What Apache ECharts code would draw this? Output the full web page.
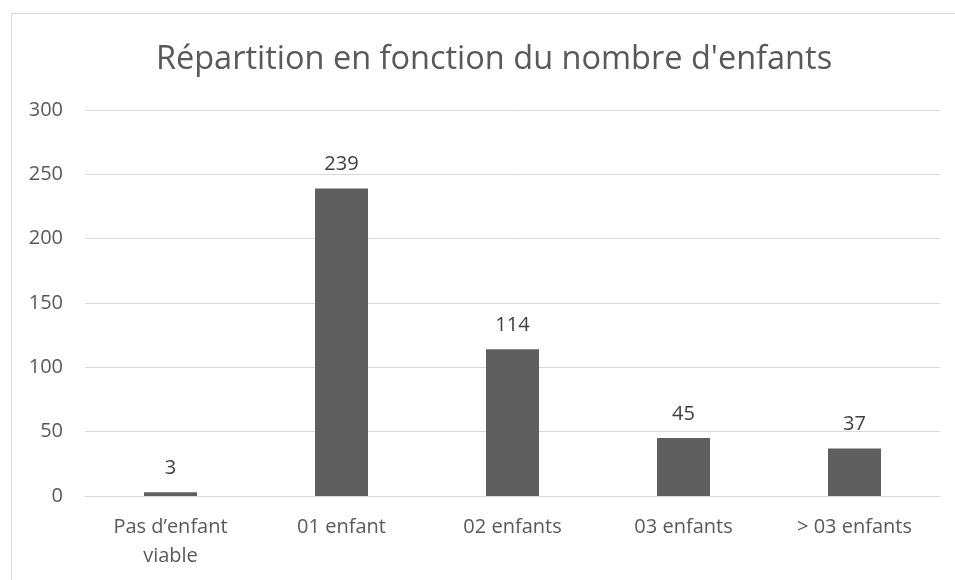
<!DOCTYPE html>
<html><head><meta charset="utf-8">
<script src="https://cdn.jsdelivr.net/npm/echarts@6/dist/echarts.min.js"></script>
<style>html,body{margin:0;padding:0;background:#fff}#c{width:955px;height:580px}</style>
</head><body><div id="c"></div>
<script>
const titleText = "Répartition en fonction du nombre d'enfants";
const categories = ["Pas d’enfant\nviable", "01 enfant", "02 enfants", "03 enfants", "> 03 enfants"];
const values = [3, 239, 114, 45, 37];
const yTicks = [0, 50, 100, 150, 200, 250, 300];

const chart = echarts.init(document.getElementById('c'), null, {renderer: 'canvas'});
const font = '"Open Sans", "Noto Sans", sans-serif';
chart.setOption({
  animation: false,
  backgroundColor: '#fff',
  graphic: [{
    type: 'rect', left: 9, top: 11, z: -1,
    shape: {width: 960, height: 590},
    style: {fill: 'none', stroke: '#d9d9d9', lineWidth: 1}
  }],
  title: {
    text: titleText, left: 489, top: 38, textAlign: 'center',
    textStyle: {fontFamily: font, fontSize: 32.5, fontWeight: 'normal', color: '#595959'}
  },
  grid: {left: 85, right: 15, top: 110, bottom: 84, containLabel: false},
  xAxis: {
    type: 'category', data: categories,
    axisLine: {lineStyle: {color: '#d9d9d9', width: 1}},
    axisTick: {show: false},
    axisLabel: {fontFamily: font, fontSize: 20, color: '#595959', margin: 17, lineHeight: 29, interval: 0}
  },
  yAxis: {
    type: 'value', min: yTicks[0], max: yTicks[yTicks.length - 1], interval: 50,
    axisLine: {show: false}, axisTick: {show: false},
    splitLine: {lineStyle: {color: '#d9d9d9', width: 1}},
    axisLabel: {fontFamily: font, fontSize: 20, color: '#595959', margin: 22}
  },
  series: [{
    type: 'bar', data: values, barWidth: '31%',
    itemStyle: {color: '#5f5f5f'},
    label: {show: true, position: 'top', distance: 14, fontFamily: font, fontSize: 20, color: '#404040'}
  }]
});
</script></body></html>
